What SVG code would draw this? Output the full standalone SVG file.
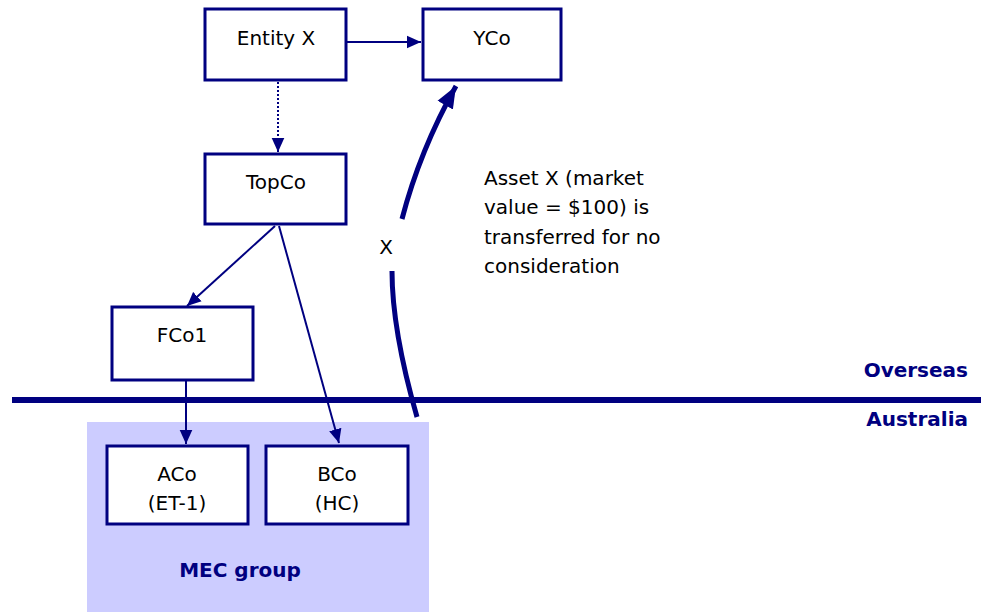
<svg xmlns="http://www.w3.org/2000/svg" width="981" height="612" viewBox="0 0 981 612">
<style>
.box{fill:#fff;stroke:#000080;stroke-width:3}
.lbl{font-family:"DejaVu Sans","Liberation Sans",sans-serif;font-size:20px;fill:#000;text-anchor:middle}
.note{font-family:"DejaVu Sans","Liberation Sans",sans-serif;font-size:20px;fill:#000}
.bold{font-family:"DejaVu Sans","Liberation Sans",sans-serif;font-size:20px;font-weight:bold;fill:#000080}
.thin{fill:none;stroke:#000080;stroke-width:2}
</style>
<defs>
<marker id="ah" viewBox="0 0 10 10" refX="10" refY="5" markerWidth="14" markerHeight="14" markerUnits="userSpaceOnUse" orient="auto"><path d="M0,0.5 L10,5 L0,9.5 z" fill="#000080"/></marker>
<marker id="ahs" viewBox="0 0 10 10" refX="10" refY="5" markerWidth="22" markerHeight="22" markerUnits="userSpaceOnUse" orient="auto"><path d="M0,1 L10,5 L0,9 z" fill="#000080"/></marker>
</defs>
<rect id="mec" x="87" y="422" width="342" height="190" fill="#ccccff"/>
<line x1="12" y1="400" x2="981" y2="400" stroke="#000080" stroke-width="6"/>
<text class="bold" x="968" y="377" text-anchor="end">Overseas</text>
<text class="bold" x="968" y="426" text-anchor="end">Australia</text>
<text class="bold" x="240" y="577" text-anchor="middle">MEC group</text>
<g id="connectors">
<line class="thin" x1="347" y1="42" x2="421" y2="42" marker-end="url(#ah)"/>
<line x1="278" y1="82" x2="278" y2="152" fill="none" stroke="#000080" stroke-width="2" stroke-dasharray="2,2" marker-end="url(#ah)"/>
<line class="thin" x1="275" y1="226" x2="187" y2="306" marker-end="url(#ah)"/>
<line class="thin" x1="279" y1="226" x2="339" y2="443" marker-end="url(#ah)"/>
<line class="thin" x1="186" y1="381" x2="186" y2="444" marker-end="url(#ah)"/>
<path d="M417,417 Q392,330 392,271" fill="none" stroke="#000080" stroke-width="5"/>
<path d="M402,219 Q420,150 456,86" fill="none" stroke="#000080" stroke-width="5" marker-end="url(#ahs)"/>
<text class="note" x="386" y="254" text-anchor="middle">X</text>
</g>
<g id="entityx"><rect class="box" x="205" y="9" width="141" height="71"/><text class="lbl" x="276" y="45">Entity X</text></g>
<g id="yco"><rect class="box" x="423" y="9" width="138" height="71"/><text class="lbl" x="492" y="45">YCo</text></g>
<g id="topco"><rect class="box" x="205" y="154" width="141" height="70"/><text class="lbl" x="276" y="189">TopCo</text></g>
<g id="fco1"><rect class="box" x="112" y="307" width="141" height="73"/><text class="lbl" x="182" y="342">FCo1</text></g>
<g id="aco"><rect class="box" x="107" y="446" width="141" height="78"/><text class="lbl" x="177" y="481">ACo</text><text class="lbl" x="177" y="510">(ET-1)</text></g>
<g id="bco"><rect class="box" x="266" y="446" width="142" height="78"/><text class="lbl" x="337" y="481">BCo</text><text class="lbl" x="337" y="510">(HC)</text></g>
<g id="note">
<text class="note" x="484" y="185">Asset X (market</text>
<text class="note" x="484" y="214">value = $100) is</text>
<text class="note" x="484" y="244">transferred for no</text>
<text class="note" x="484" y="273">consideration</text>
</g>
</svg>
